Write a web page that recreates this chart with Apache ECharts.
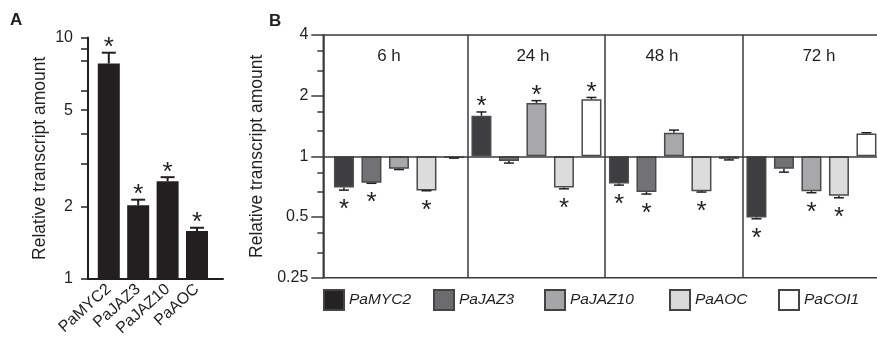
<!DOCTYPE html>
<html><head><meta charset="utf-8">
<script src="https://cdn.jsdelivr.net/npm/echarts@6/dist/echarts.min.js"></script>
<style>html,body{margin:0;padding:0;background:#fff}#c{width:877px;height:342px}</style>
</head><body><div id="c"></div>
<script>
// ---------- Panel A data ----------
const genesA = ['PaMYC2', 'PaJAZ3', 'PaJAZ10', 'PaAOC'];
const valuesA = [7.8, 2.02, 2.54, 1.58];
const errTopA = [8.65, 2.13, 2.64, 1.63];
const sigA = [1, 1, 1, 1];
const tickLabelsA = [1, 2, 5, 10];
const tickMarksA = [1, 2, 3, 4, 5, 6, 8, 9, 10];

// ---------- Panel B data ----------
const timePoints = ['6 h', '24 h', '48 h', '72 h'];
const genesB = ['PaMYC2', 'PaJAZ3', 'PaJAZ10', 'PaAOC', 'PaCOI1'];
const myc2B = [0.70, 1.59, 0.733, 0.497];
const myc2ErrB = [0.68, 1.66, 0.72, 0.49];
const myc2SigB = [1, 1, 1, 1];
const jaz3B = [0.739, 0.947, 0.665, 0.867];
const jaz3ErrB = [0.735, 0.926, 0.65, 0.835];
const jaz3SigB = [1, 0, 1, 0];
const jaz10B = [0.867, 1.84, 1.31, 0.672];
const jaz10ErrB = [0.86, 1.89, 1.35, 0.66];
const jaz10SigB = [0, 1, 0, 1];
const aocB = [0.677, 0.70, 0.672, 0.637];
const aocErrB = [0.675, 0.69, 0.665, 0.623];
const aocSigB = [1, 1, 1, 1];
const coi1B = [0.983, 1.92, 0.972, 1.30];
const coi1ErrB = [0.98, 1.96, 0.96, 1.31];
const coi1SigB = [0, 1, 0, 0];
const tickLabelsB = [0.25, 0.5, 1, 2, 4];
const minorTicksB = [1/3, 5/12, 2/3, 5/6, 4/3, 5/3, 8/3, 10/3];

// ---------- styles ----------
const FONT = "'Liberation Sans', Arial, sans-serif";
const INK = '#231f20';
const FRAME = '#3a3a3a';
const fillsB = ['#3e3e40', '#727274', '#a8a8aa', '#dcdcdd', '#ffffff'];
const swatchB = ['#252223', '#6c6c6e', '#a6a6a8', '#dadadb', '#ffffff'];
const BAR_W_B = 20, BAR_GAP_B = 7.5;
const AST_FS = 26;
const timeLabelShift = [-10, -3.5, -12, 7.5]; // horizontal nudge of the panel titles (px)

const seriesB = [
  [myc2B, myc2ErrB, myc2SigB],
  [jaz3B, jaz3ErrB, jaz3SigB],
  [jaz10B, jaz10ErrB, jaz10SigB],
  [aocB, aocErrB, aocSigB],
  [coi1B, coi1ErrB, coi1SigB]
];

function makeErr(offset, capW, lw, aboveGap, belowGap) {
  return function (params, api) {
    const t = api.value(0), v = api.value(1), e = api.value(2), s = api.value(3);
    const p = api.coord([t, v]);
    const q = api.coord([t, e]);
    const x = p[0] + offset;
    const st = { stroke: INK, lineWidth: lw };
    const children = [
      { type: 'line', shape: { x1: x, y1: p[1], x2: x, y2: q[1] }, style: st },
      { type: 'line', shape: { x1: x - capW / 2, y1: q[1], x2: x + capW / 2, y2: q[1] }, style: st }
    ];
    if (s) {
      const yc = v >= 1 ? q[1] - aboveGap : q[1] + belowGap;
      children.push({
        type: 'text',
        style: {
          text: '*', x: x, y: yc + 0.23 * AST_FS,
          fill: INK, font: AST_FS + 'px ' + FONT,
          textAlign: 'center', textVerticalAlign: 'middle',
          align: 'center', verticalAlign: 'middle'
        }
      });
    }
    return { type: 'group', children: children };
  };
}

const log10 = Math.log10, log2 = Math.log2;

const timeRich = {};
timeLabelShift.forEach((d, i) => {
  timeRich['t' + i] = {
    fontSize: 17, color: INK, fontFamily: FONT,
    padding: d < 0 ? [0, -2 * d, 0, 0] : [0, 0, 0, 2 * d]
  };
});

const option = {
  animation: false,
  backgroundColor: '#ffffff',
  textStyle: { fontFamily: FONT, color: INK },
  title: [
    { text: 'A', left: 10, top: 12, padding: 0, textStyle: { fontSize: 17, fontWeight: 'bold', color: INK, fontFamily: FONT } },
    { text: 'B', left: 269, top: 13, padding: 0, textStyle: { fontSize: 17, fontWeight: 'bold', color: INK, fontFamily: FONT } }
  ],
  legend: genesB.map((g, i) => ({
    data: [{ name: g, itemStyle: { color: swatchB[i], borderColor: '#444444', borderWidth: 2 } }],
    left: [323, 433, 544, 669, 778][i], top: 289, padding: 0,
    itemWidth: 20, itemHeight: 20, icon: 'rect', selectedMode: false,
    textStyle: { fontSize: 15.5, fontStyle: 'italic', color: INK, fontFamily: FONT }
  })),
  grid: [
    { left: 88, top: 37.5, width: 135, height: 241.5, outerBoundsMode: 'none' },           // A frame
    { left: 94.1, top: 37.5, width: 117.6, height: 241.5, outerBoundsMode: 'none' },        // A bars
    { left: 323.3, top: 35, width: 565, height: 242.7, show: true, borderColor: FRAME, borderWidth: 1.5, backgroundColor: 'transparent', outerBoundsMode: 'none' }, // B frame
    { left: 330.2, top: 35, width: 550, height: 242.7, outerBoundsMode: 'none' }            // B bars
  ],
  xAxis: [
    { gridIndex: 0, type: 'value', min: 0, max: 1, axisLine: { show: true, lineStyle: { color: INK, width: 2 } },
      axisTick: { show: false }, axisLabel: { show: false }, splitLine: { show: false } },
    { gridIndex: 1, type: 'category', data: genesA, axisLine: { show: false }, axisTick: { show: false },
      axisLabel: { rotate: 42, margin: 8, fontSize: 16, color: INK, fontFamily: FONT, interval: 0 }, splitLine: { show: false } },
    { gridIndex: 2, type: 'value', min: 0, max: 1, show: false },
    { gridIndex: 3, type: 'category', data: timePoints, axisLine: { show: false }, axisTick: { show: false },
      axisLabel: { show: false },
      splitLine: { show: true, interval: function (i) { return i > 0; }, lineStyle: { color: FRAME, width: 1.5 } } },
    { gridIndex: 3, type: 'category', data: timePoints, position: 'top', axisLine: { show: false }, axisTick: { show: false },
      axisLabel: { inside: true, margin: 13, fontSize: 17, color: INK, fontFamily: FONT, interval: 0,
        formatter: function (v, i) { return '{t' + i + '|' + v + '}'; }, rich: timeRich },
      splitLine: { show: false } }
  ],
  yAxis: [
    { gridIndex: 0, type: 'value', min: 0, max: 1,
      axisLine: { show: true, lineStyle: { color: INK, width: 2 } },
      axisTick: { show: true, length: 7, customValues: tickMarksA.map(v => log10(v)), lineStyle: { color: INK, width: 1.5 } },
      axisLabel: { customValues: tickLabelsA.map(v => log10(v)), formatter: v => String(Math.round(Math.pow(10, v))),
        fontSize: 16, color: INK, fontFamily: FONT, margin: 15 },
      splitLine: { show: false },
      name: 'Relative transcript amount', nameLocation: 'middle', nameGap: 39,
      nameTextStyle: { fontSize: 17.5, color: INK, fontFamily: FONT } },
    { gridIndex: 1, type: 'log', logBase: 10, min: 1, max: 10, show: false },
    { gridIndex: 2, type: 'value', min: -2, max: 2, interval: 1, position: 'left',
      axisLine: { show: true, lineStyle: { color: FRAME, width: 1.5 } },
      axisTick: { show: true, length: 12, lineStyle: { color: FRAME, width: 1.5 } },
      axisLabel: { formatter: v => String(+Math.pow(2, v).toFixed(2)), fontSize: 16, color: INK, fontFamily: FONT, margin: 15 },
      splitLine: { show: false },
      name: 'Relative transcript amount', nameLocation: 'middle', nameGap: 46,
      nameTextStyle: { fontSize: 17.5, color: INK, fontFamily: FONT } },
    { gridIndex: 2, type: 'value', min: -2, max: 2, position: 'left', offset: 0,
      axisLine: { show: false },
      axisTick: { show: true, length: 6, customValues: minorTicksB.map(v => log2(v)), lineStyle: { color: FRAME, width: 1.5 } },
      axisLabel: { show: false }, splitLine: { show: false } },
    { gridIndex: 3, type: 'log', logBase: 2, min: 0.25, max: 4, show: false }
  ],
  series: [
    // baseline at 1 across panel B
    { type: 'line', xAxisIndex: 2, yAxisIndex: 2, data: [[0, 0]], symbol: 'none', showSymbol: false,
      lineStyle: { opacity: 0 }, silent: true, z: 6,
      markLine: { symbol: 'none', silent: true, label: { show: false }, animation: false,
        lineStyle: { color: FRAME, width: 1.5, type: 'solid' }, data: [{ yAxis: 0 }] } },
    // panel A bars
    { name: 'A', type: 'bar', xAxisIndex: 1, yAxisIndex: 1, data: valuesA, barWidth: 22, silent: true,
      itemStyle: { color: INK } },
    { type: 'custom', xAxisIndex: 1, yAxisIndex: 1, silent: true, z: 5,
      data: genesA.map((g, i) => [i, valuesA[i], errTopA[i], sigA[i]]),
      renderItem: makeErr(0, 14, 2, 10.5, 14) }
  ]
};

seriesB.forEach((arr, i) => {
  option.series.push({
    name: genesB[i], type: 'bar', xAxisIndex: 3, yAxisIndex: 4, data: arr[0],
    barWidth: BAR_W_B, barGap: (BAR_GAP_B / BAR_W_B * 100) + '%', silent: true,
    itemStyle: { color: fillsB[i], borderColor: '#4a4a4a', borderWidth: 1.5 }
  });
});
seriesB.forEach((arr, i) => {
  option.series.push({
    type: 'custom', xAxisIndex: 3, yAxisIndex: 4, silent: true, z: 5,
    data: timePoints.map((t, k) => [k, arr[0][k], arr[1][k], arr[2][k]]),
    renderItem: makeErr((i - 2) * (BAR_W_B + BAR_GAP_B), 10, 1.5, 11, 14)
  });
});

const chart = echarts.init(document.getElementById('c'), null, { renderer: 'canvas' });
chart.setOption(option);
</script></body></html>
